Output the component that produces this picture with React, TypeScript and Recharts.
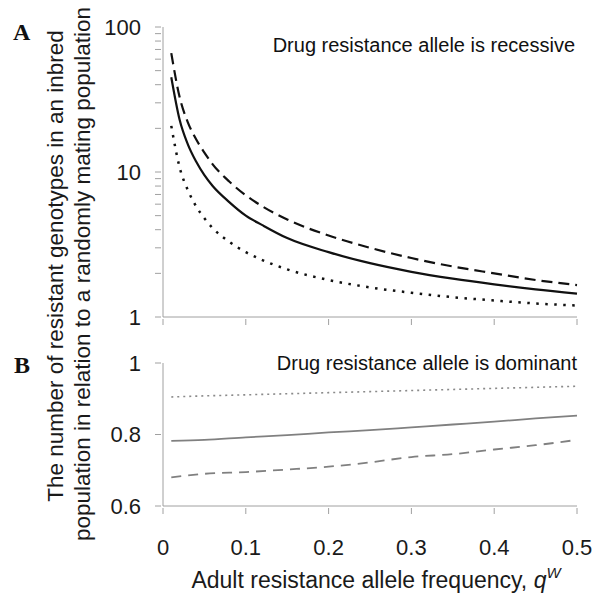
import React from 'react'
import { LineChart, Line, XAxis, YAxis } from 'recharts'

// x values (adult resistance allele frequency)
const qA = [0.01, 0.02, 0.03, 0.04, 0.05, 0.06, 0.08, 0.1, 0.12, 0.15, 0.2, 0.25, 0.3, 0.35, 0.4, 0.45, 0.5]
// panel A: recessive
const recDashed = [66, 33, 22, 16.8, 13.6, 11.3, 8.6, 6.9, 5.8, 4.7, 3.65, 3.0, 2.55, 2.23, 2.0, 1.8, 1.66]
const recSolid = [45, 23, 15.5, 11.8, 9.5, 8.0, 6.2, 5.0, 4.3, 3.5, 2.8, 2.35, 2.05, 1.84, 1.68, 1.55, 1.45]
const recDotted = [20.8, 10.8, 7.5, 5.8, 4.8, 4.1, 3.3, 2.8, 2.47, 2.13, 1.8, 1.6, 1.47, 1.37, 1.3, 1.24, 1.2]

const qB = [0.01, 0.05, 0.1, 0.15, 0.2, 0.25, 0.3, 0.35, 0.4, 0.45, 0.5]
// panel B: dominant
const domDotted = [0.905, 0.908, 0.911, 0.914, 0.917, 0.92, 0.923, 0.926, 0.929, 0.932, 0.935]
const domSolid = [0.782, 0.785, 0.792, 0.798, 0.806, 0.812, 0.82, 0.828, 0.836, 0.845, 0.853]
const domDashed = [0.68, 0.69, 0.695, 0.702, 0.71, 0.722, 0.737, 0.745, 0.758, 0.77, 0.785]

const xTicks = [0, 0.1, 0.2, 0.3, 0.4, 0.5]
const logTicks = [1, 2, 3, 4, 5, 6, 7, 8, 9, 10, 20, 30, 40, 50, 60, 70, 80, 90, 100]
const logLabels = [1, 10, 100]
const linTicks = [0.6, 0.8, 1]

const dataA = qA.map((q, i) => ({ q, dashed: recDashed[i], solid: recSolid[i], dotted: recDotted[i] }))
const dataB = qB.map((q, i) => ({ q, dashed: domDashed[i], solid: domSolid[i], dotted: domDotted[i] }))

const font = '"Liberation Sans", Arial, sans-serif'
const axisColor = '#a0a0a0'
const tickStyle = { fontSize: 22, fill: '#1a1a1a', fontFamily: font }

// y ticks: every tick gets a mark, only listed values get a label
const makeYTick = (labelled: (v: number) => boolean) =>
    // eslint-disable-next-line @typescript-eslint/no-explicit-any
    (props: any) => {
        const { x, y, payload } = props
        const ax = x + 5
        return (
            <g>
                <line x1={ax - 6} x2={ax} y1={y} y2={y} stroke={axisColor} strokeWidth={1} />
                {labelled(payload.value) && (
                    <text x={ax - 20} y={y} dy="0.355em" textAnchor="end" {...tickStyle}>
                        {String(payload.value)}
                    </text>
                )}
            </g>
        )
    }

const makeXTick = (showLabel: boolean) =>
    // eslint-disable-next-line @typescript-eslint/no-explicit-any
    (props: any) => {
        const { x, y, payload } = props
        const ay = y - 5
        return (
            <g>
                <line x1={x} x2={x} y1={ay} y2={ay + 6} stroke={axisColor} strokeWidth={1} />
                {showLabel && (
                    <text x={x} y={ay + 47} textAnchor="middle" {...tickStyle}>
                        {String(payload.value)}
                    </text>
                )}
            </g>
        )
    }

export default function App() {
    return (
        <div style={{ position: 'fixed', left: 0, top: 0, width: 597, height: 596, background: '#fff' }}>
            <div style={{ position: 'absolute', left: 0, top: 0 }}>
                <LineChart width={597} height={330} data={dataA} margin={{ top: 27, right: 20, left: 103, bottom: 0 }}>
                    <XAxis
                        dataKey="q"
                        type="number"
                        domain={[0, 0.5]}
                        ticks={xTicks}
                        interval={0}
                        height={13}
                        stroke={axisColor}
                        tickSize={5}
                        tickLine={false}
                        tick={makeXTick(false)}
                    />
                    <YAxis
                        scale="log"
                        domain={[1, 100]}
                        ticks={logTicks}
                        interval={0}
                        allowDataOverflow
                        width={60}
                        stroke={axisColor}
                        tickSize={5}
                        tickLine={false}
                        tick={makeYTick((v) => logLabels.includes(v))}
                    />
                    <Line type="monotone" dataKey="dashed" stroke="#111" strokeWidth={2.2} strokeDasharray="11 6" dot={false} isAnimationActive={false} />
                    <Line type="monotone" dataKey="solid" stroke="#111" strokeWidth={2.2} dot={false} isAnimationActive={false} />
                    <Line type="monotone" dataKey="dotted" stroke="#111" strokeWidth={2.5} strokeDasharray="2.5 6.5" dot={false} isAnimationActive={false} />
                </LineChart>
            </div>
            <div style={{ position: 'absolute', left: 0, top: 330 }}>
                <LineChart width={597} height={266} data={dataB} margin={{ top: 33, right: 20, left: 103, bottom: 0 }}>
                    <XAxis
                        dataKey="q"
                        type="number"
                        domain={[0, 0.5]}
                        ticks={xTicks}
                        interval={0}
                        height={90}
                        stroke={axisColor}
                        tickSize={5}
                        tickLine={false}
                        tick={makeXTick(true)}
                    />
                    <YAxis
                        domain={[0.6, 1]}
                        ticks={linTicks}
                        interval={0}
                        width={60}
                        stroke={axisColor}
                        tickSize={5}
                        tickLine={false}
                        tick={makeYTick(() => true)}
                    />
                    <Line type="monotone" dataKey="dotted" stroke="#8a8a8a" strokeWidth={1.6} strokeDasharray="2 4" dot={false} isAnimationActive={false} />
                    <Line type="monotone" dataKey="solid" stroke="#808080" strokeWidth={1.8} dot={false} isAnimationActive={false} />
                    <Line type="monotone" dataKey="dashed" stroke="#808080" strokeWidth={1.8} strokeDasharray="10 7" dot={false} isAnimationActive={false} />
                </LineChart>
            </div>
            <svg width={597} height={596} style={{ position: 'absolute', left: 0, top: 0, pointerEvents: 'none' }}>
                <text x={13} y={40} fontFamily='"Liberation Serif", "Times New Roman", serif' fontWeight="bold" fontSize={24} fill="#111">A</text>
                <text x={14} y={373} fontFamily='"Liberation Serif", "Times New Roman", serif' fontWeight="bold" fontSize={24} fill="#111">B</text>
                <text x={575} y={52} textAnchor="end" fontFamily={font} fontSize={20} fill="#111">Drug resistance allele is recessive</text>
                <text x={577} y={370} textAnchor="end" fontFamily={font} fontSize={20} fill="#111">Drug resistance allele is dominant</text>
                <text transform="translate(63,266) rotate(-90)" textAnchor="middle" fontFamily={font} fontSize={22.5} fill="#1a1a1a">
                    The number of resistant genotypes in an inbred
                </text>
                <text transform="translate(90,274) rotate(-90)" textAnchor="middle" fontFamily={font} fontSize={22.5} fill="#1a1a1a">
                    population in relation to a randomly mating population
                </text>
                <text x={376} y={588} textAnchor="middle" fontFamily={font} fontSize={23} fill="#1a1a1a">
                    Adult resistance allele frequency, <tspan fontStyle="italic">q</tspan>
                    <tspan fontStyle="italic" fontSize={15} dy={-10}>W</tspan>
                </text>
            </svg>
        </div>
    )
}
